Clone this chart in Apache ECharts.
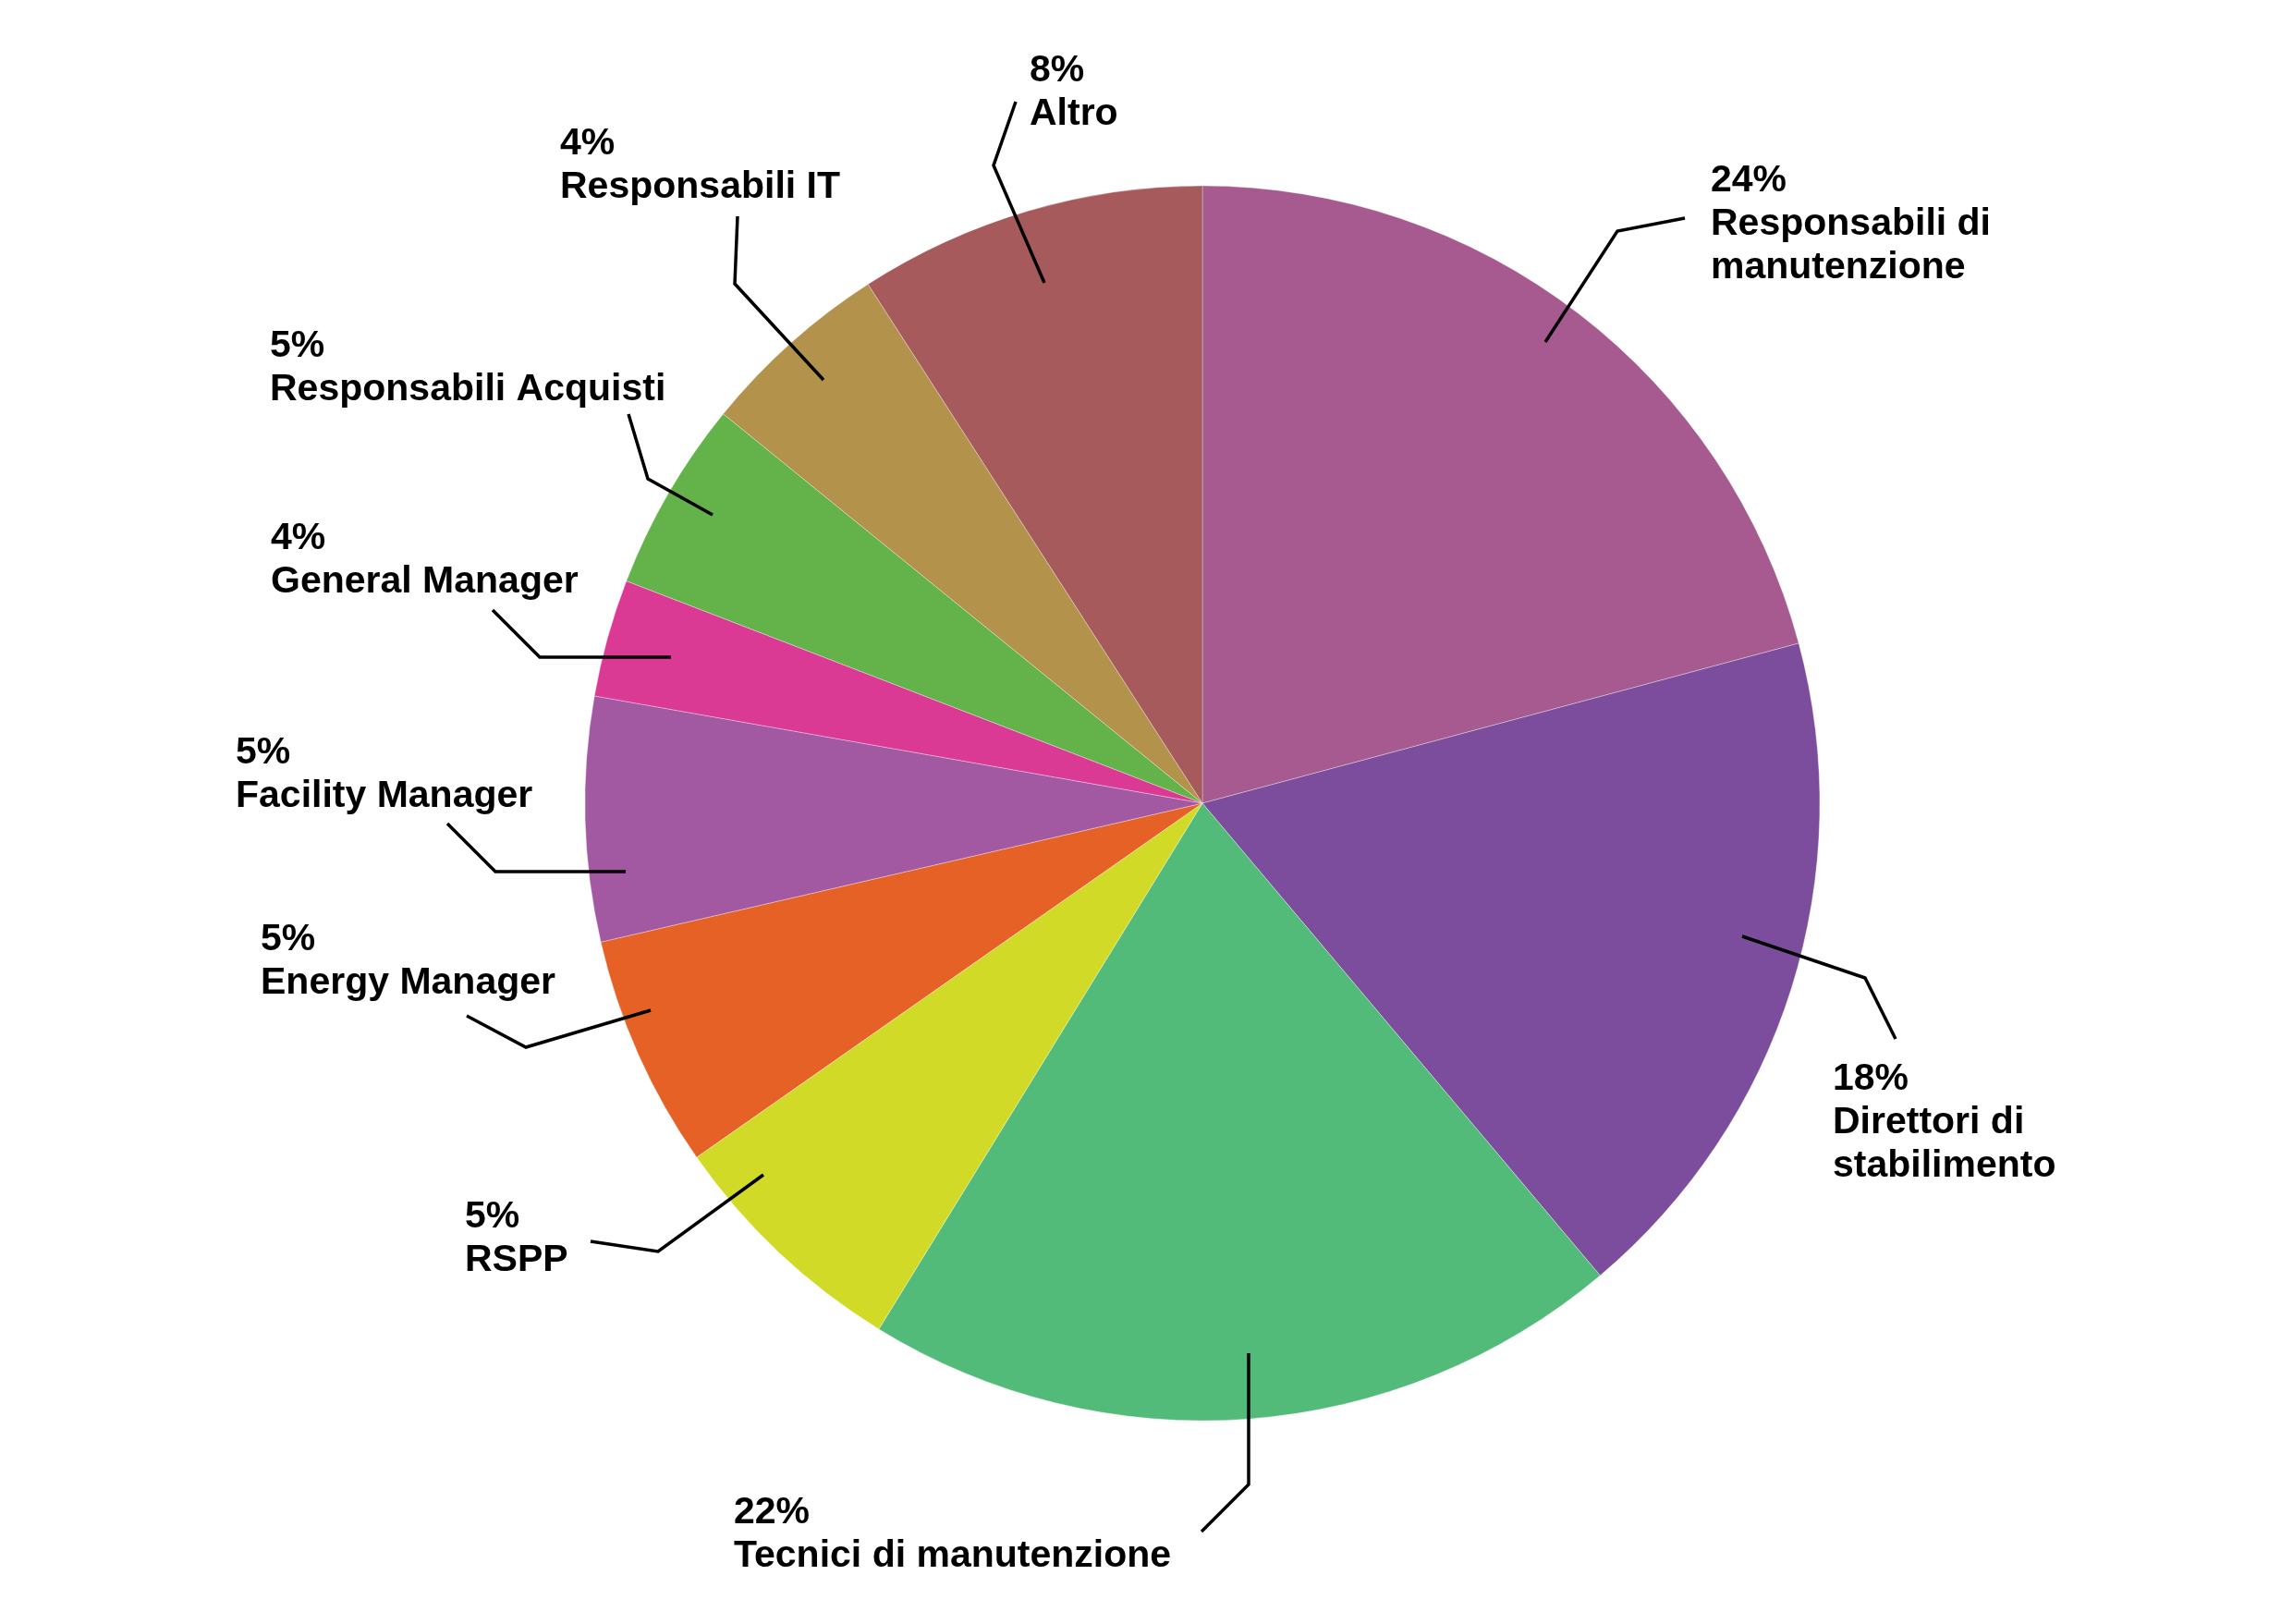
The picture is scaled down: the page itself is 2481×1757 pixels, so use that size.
<!DOCTYPE html>
<html>
<head>
<meta charset="utf-8">
<script src="https://cdn.jsdelivr.net/npm/echarts@6/dist/echarts.min.js"></script>
<style>
html,body{margin:0;padding:0;background:#ffffff;}
#chart{width:2481px;height:1757px;}
</style>
</head>
<body>
<div id="chart"></div>
<script>
// ---- data ----
const categories = [
  'Responsabili di\nmanutenzione',
  'Direttori di\nstabilimento',
  'Tecnici di manutenzione',
  'RSPP',
  'Energy Manager',
  'Facility Manager',
  'General Manager',
  'Responsabili Acquisti',
  'Responsabili IT',
  'Altro'
];
// slice shares as drawn
const sliceShares = [20.83, 18.03, 19.92, 6.50, 6.11, 6.39, 3.08, 5.00, 5.03, 9.11];
// percentages printed in the labels
const percentLabels = ['24%', '18%', '22%', '5%', '5%', '5%', '4%', '5%', '4%', '8%'];

// ---- style / layout ----
const colors = ['#A65A8F', '#7C4D9C', '#52BB79', '#D1DB27', '#E66126',
                '#A358A2', '#DB3A94', '#63B24A', '#B3924B', '#A65A5B'];
const CX = 1301, CY = 869, R = 668;
const FONT_SIZE = 41, LINE_H = 47;
// label anchor: [left x, centre of first text line] as offsets from pie centre
const labelAnchors = [
  [550, -673], [682, 299], [-507, 768], [-798, 448], [-1019, 148],
  [-1046, -54], [-1008, -286], [-1009, -494], [-695, -713], [-187, -792]
];
// leader line points as offsets from pie centre
const leaderLines = [
  [[371, -499], [449, -619], [522, -633]],
  [[584, 144], [717, 189], [750, 255]],
  [[50, 595], [50, 737], [-1, 788]],
  [[-475, 402], [-589, 485], [-662, 474]],
  [[-597, 224], [-732, 264], [-796, 230]],
  [[-624, 74], [-765, 74], [-817, 22]],
  [[-575, -158], [-717, -158], [-768, -209]],
  [[-530, -312], [-600, -351], [-621, -421]],
  [[-410, -458], [-506, -562], [-503, -635]],
  [[-171, -563], [-226, -690], [-202, -759]]
];

const chart = echarts.init(document.getElementById('chart'), null, {renderer: 'canvas'});
const pieData = categories.map((c, i) => ({
  name: c,
  value: sliceShares[i],
  itemStyle: {color: colors[i]}
}));
const labelData = categories.map((c, i) => ({
  name: c,
  value: sliceShares[i]
}));

const common = {
  type: 'pie',
  center: [CX, CY],
  radius: [0, R],
  startAngle: 90,
  clockwise: true,
  avoidLabelOverlap: false,
  emphasis: {disabled: true}
};

chart.setOption({
  backgroundColor: '#ffffff',
  animation: false,
  series: [
    Object.assign({}, common, {
      z: 2,
      data: pieData,
      itemStyle: {borderWidth: 0.6, borderColor: 'rgba(255,255,255,0.55)'},
      label: {show: false},
      labelLine: {show: false}
    }),
    Object.assign({}, common, {
      z: 5,
      silent: true,
      data: labelData,
      itemStyle: {color: 'rgba(0,0,0,0)', borderWidth: 0},
      label: {
        show: true,
        position: 'outside',
        formatter: p => percentLabels[p.dataIndex] + '\n' + p.name,
        fontFamily: '"Liberation Sans", Arial, Helvetica, sans-serif',
        fontWeight: 'bold',
        fontSize: FONT_SIZE,
        lineHeight: LINE_H,
        color: '#000000',
        align: 'left'
      },
      labelLine: {
        show: true,
        smooth: false,
        lineStyle: {color: '#000000', width: 3.5}
      },
      labelLayout: function (params) {
        const i = params.dataIndex;
        const a = labelAnchors[i];
        return {
          x: CX + a[0],
          y: CY + a[1] - LINE_H / 2,
          align: 'left',
          verticalAlign: 'top',
          labelLinePoints: leaderLines[i].map(p => [CX + p[0], CY + p[1]])
        };
      }
    })
  ]
});
</script>
</body>
</html>
